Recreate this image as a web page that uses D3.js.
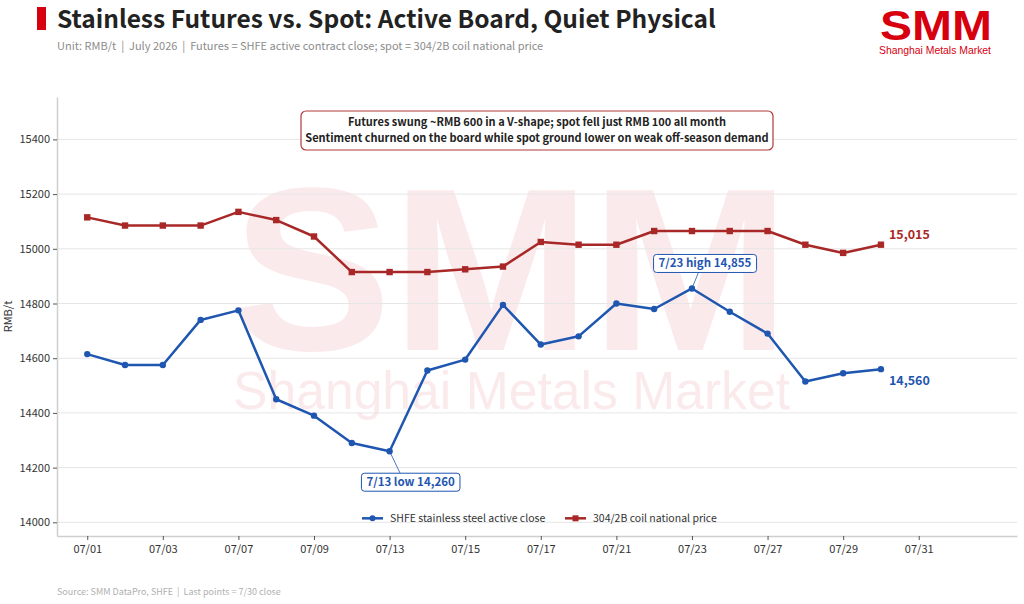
<!DOCTYPE html>
<html>
<head>
<meta charset="utf-8">
<script src="https://cdn.jsdelivr.net/npm/d3@7"></script>
<style>
  html, body { margin: 0; padding: 0; background: #fff; }
  svg { display: block; font-family: "Noto Sans CJK SC", "Noto Sans", sans-serif; }
  text { white-space: pre; }
</style>
</head>
<body>
<div id="wrapper"></div>
<script>
// trading days of July 2026 (last one has no data yet)
const days = ["07/01", "07/02", "07/03", "07/06", "07/07", "07/08", "07/09", "07/10",
  "07/13", "07/14", "07/15", "07/16", "07/17", "07/20", "07/21", "07/22", "07/23",
  "07/24", "07/27", "07/28", "07/29", "07/30", "07/31"]

const futures = [14615, 14575, 14575, 14740, 14775, 14450, 14390, 14290, 14260, 14555,
  14595, 14795, 14650, 14680, 14800, 14780, 14855, 14770, 14690, 14515, 14545, 14560]

const spot = [15115, 15085, 15085, 15085, 15135, 15105, 15045, 14915, 14915, 14915,
  14925, 14935, 15025, 15015, 15015, 15065, 15065, 15065, 15065, 15015, 14985, 15015]

const yTicks = [14000, 14200, 14400, 14600, 14800, 15000, 15200, 15400]

const seriesNames = ["SHFE stainless steel active close", "304/2B coil national price"]
const noteLines = [
  "Futures swung ~RMB 600 in a V-shape; spot fell just RMB 100 all month",
  "Sentiment churned on the board while spot ground lower on weak off-season demand"
]

function drawChart() {
  const blue = "#1f56b0"
  const red = "#a82828"
  const brand = "#d7000f"

  const dimensions = {
    width: 1024,
    height: 604,
    margin: { top: 97, right: 7, bottom: 68, left: 57 }
  }
  dimensions.boundedWidth = dimensions.width - dimensions.margin.left - dimensions.margin.right
  dimensions.boundedHeight = dimensions.height - dimensions.margin.top - dimensions.margin.bottom

  const svg = d3.select("#wrapper")
    .append("svg")
    .attr("width", dimensions.width)
    .attr("height", dimensions.height)

  // header
  svg.append("rect")
    .attr("x", 37).attr("y", 7).attr("width", 9).attr("height", 23)
    .attr("fill", brand)
  svg.append("text")
    .attr("x", 57).attr("y", 28)
    .attr("fill", "#222")
    .style("font-size", "24.5px").style("font-weight", 700)
    .text("Stainless Futures vs. Spot: Active Board, Quiet Physical")
  svg.append("text")
    .attr("x", 57).attr("y", 50)
    .attr("fill", "#8c8c8c")
    .style("font-size", "11px")
    .text("Unit: RMB/t  |  July 2026  |  Futures = SHFE active contract close; spot = 304/2B coil national price")

  // logo
  svg.append("text")
    .attr("x", 880).attr("y", 40)
    .attr("fill", brand)
    .attr("textLength", 112).attr("lengthAdjust", "spacingAndGlyphs")
    .style("font-size", "42px").style("font-weight", 700)
    .style("font-family", "'Liberation Sans', Arial, sans-serif")
    .text("SMM")
  svg.append("text")
    .attr("x", 879).attr("y", 54)
    .attr("fill", brand)
    .attr("textLength", 112).attr("lengthAdjust", "spacingAndGlyphs")
    .style("font-size", "11px")
    .style("font-family", "'Liberation Sans', Arial, sans-serif")
    .text("Shanghai Metals Market")

  const bounds = svg.append("g")
    .attr("transform", `translate(${dimensions.margin.left},${dimensions.margin.top})`)

  // scales
  const xScale = d3.scaleLinear()
    .domain([-0.8, 24.6])
    .range([0, dimensions.boundedWidth])

  const yScale = d3.scaleLinear()
    .domain([13950, 15555])
    .range([dimensions.boundedHeight, 0])

  // watermark
  const wm = bounds.append("g").attr("opacity", 0.08)
  wm.append("text")
    .attr("x", 175).attr("y", 253)
    .attr("fill", brand)
    .attr("textLength", 558).attr("lengthAdjust", "spacingAndGlyphs")
    .style("font-size", "232px").style("font-weight", 700)
    .style("font-family", "'Liberation Sans', Arial, sans-serif")
    .text("SMM")
  wm.append("text")
    .attr("x", 176).attr("y", 312)
    .attr("fill", brand)
    .attr("textLength", 557).attr("lengthAdjust", "spacingAndGlyphs")
    .style("font-size", "53px")
    .style("font-family", "'Liberation Sans', Arial, sans-serif")
    .text("Shanghai Metals Market")

  // gridlines
  bounds.append("g")
    .selectAll("line")
    .data(yTicks)
    .join("line")
    .attr("x1", 0).attr("x2", dimensions.boundedWidth)
    .attr("y1", d => yScale(d)).attr("y2", d => yScale(d))
    .attr("stroke", "#e6e6e6").attr("stroke-width", 1)

  // axes
  const yAxis = bounds.append("g")
    .call(d3.axisLeft(yScale).tickValues(yTicks).tickFormat(d3.format("d"))
      .tickSize(4).tickPadding(3).tickSizeOuter(0))
  yAxis.select(".domain").attr("stroke", "#cfcfcf").attr("stroke-width", 1.5)
  yAxis.selectAll(".tick line").attr("stroke", "#555")
  yAxis.selectAll(".tick text")
    .attr("fill", "#333")
    .style("font-size", "11px")
    .style("font-family", "'Noto Sans CJK SC', sans-serif")

  const xAxis = bounds.append("g")
    .attr("transform", `translate(0,${dimensions.boundedHeight})`)
    .call(d3.axisBottom(xScale)
      .tickValues(d3.range(0, days.length, 2))
      .tickFormat(i => days[i])
      .tickSize(4).tickPadding(5).tickSizeOuter(0))
  xAxis.select(".domain").attr("stroke", "#cfcfcf").attr("stroke-width", 1.5)
  xAxis.selectAll(".tick line").attr("stroke", "#555")
  xAxis.selectAll(".tick text")
    .attr("fill", "#333")
    .style("font-size", "11px")
    .style("font-family", "'Noto Sans CJK SC', sans-serif")

  svg.append("text")
    .attr("transform", `translate(12,${dimensions.margin.top + dimensions.boundedHeight / 2}) rotate(-90)`)
    .attr("text-anchor", "middle")
    .attr("fill", "#333")
    .style("font-size", "11px")
    .text("RMB/t")

  // lines
  const lineGen = d3.line()
    .x((d, i) => xScale(i))
    .y(d => yScale(d))

  bounds.append("path")
    .datum(spot)
    .attr("d", lineGen)
    .attr("fill", "none")
    .attr("stroke", red).attr("stroke-width", 2.5)
    .attr("stroke-linejoin", "round")
  bounds.append("g")
    .selectAll("rect")
    .data(spot)
    .join("rect")
    .attr("x", (d, i) => xScale(i) - 3.2)
    .attr("y", d => yScale(d) - 3.2)
    .attr("width", 6.4).attr("height", 6.4)
    .attr("fill", red)

  bounds.append("path")
    .datum(futures)
    .attr("d", lineGen)
    .attr("fill", "none")
    .attr("stroke", blue).attr("stroke-width", 2.5)
    .attr("stroke-linejoin", "round")
  bounds.append("g")
    .selectAll("circle")
    .data(futures)
    .join("circle")
    .attr("cx", (d, i) => xScale(i))
    .attr("cy", d => yScale(d))
    .attr("r", 3.2)
    .attr("fill", blue)

  // end labels
  const lastI = futures.length - 1
  bounds.append("text")
    .attr("x", xScale(lastI) + 8).attr("y", yScale(spot[lastI]) - 6)
    .attr("fill", red)
    .style("font-size", "12.5px").style("font-weight", 700)
    .text(d3.format(",")(spot[lastI]))
  bounds.append("text")
    .attr("x", xScale(lastI) + 8).attr("y", yScale(futures[lastI]) + 16)
    .attr("fill", blue)
    .style("font-size", "12.5px").style("font-weight", 700)
    .text(d3.format(",")(futures[lastI]))

  // callouts for low and high
  const callout = (i, label, dx, dy) => {
    const px = xScale(i), py = yScale(futures[i])
    const g = bounds.append("g")
    const t = g.append("text")
      .attr("x", px + dx).attr("y", py + dy + 4)
      .attr("text-anchor", "middle")
      .attr("fill", blue)
      .style("font-size", "11.5px").style("font-weight", 700)
      .text(label)
    const bb = t.node().getBBox()
    g.insert("line", "text")
      .attr("x1", px).attr("y1", py)
      .attr("x2", px + dx * 0.5).attr("y2", dy > 0 ? py + dy - 9 : py + dy + 9)
      .attr("stroke", blue).attr("stroke-width", 0.8)
    g.insert("rect", "text")
      .attr("x", bb.x - 5).attr("y", py + dy - 9)
      .attr("width", bb.width + 10).attr("height", 18)
      .attr("rx", 3)
      .attr("fill", "#fff")
      .attr("stroke", blue).attr("stroke-width", 1)
  }
  const lowI = futures.indexOf(d3.min(futures))
  const highI = futures.indexOf(d3.max(futures))
  callout(lowI, `7/13 low ${d3.format(",")(futures[lowI])}`, 21, 31)
  callout(highI, `7/23 high ${d3.format(",")(futures[highI])}`, 13, -25)

  // note box
  const note = bounds.append("g")
  note.append("rect")
    .attr("x", 244).attr("y", 14)
    .attr("width", 472).attr("height", 39)
    .attr("rx", 5)
    .attr("fill", "#fff")
    .attr("stroke", "#b03a3a").attr("stroke-width", 1.2)
  note.selectAll("text")
    .data(noteLines)
    .join("text")
    .attr("x", 480)
    .attr("y", (d, i) => 29 + i * 16)
    .attr("text-anchor", "middle")
    .attr("fill", "#222")
    .style("font-size", "11px").style("font-weight", 700)
    .text(d => d)

  // legend
  const legend = bounds.append("g")
    .attr("transform", `translate(305,${yScale(14000) - 4})`)
  const items = legend.selectAll("g")
    .data(seriesNames)
    .join("g")
    .attr("transform", (d, i) => `translate(${i * 203},0)`)
  items.append("line")
    .attr("x1", 0).attr("x2", 21)
    .attr("stroke", (d, i) => i === 0 ? blue : red)
    .attr("stroke-width", 2.5)
  items.filter((d, i) => i === 0).append("circle")
    .attr("cx", 10.5).attr("r", 3).attr("fill", blue)
  items.filter((d, i) => i === 1).append("rect")
    .attr("x", 7.5).attr("y", -3).attr("width", 6).attr("height", 6).attr("fill", red)
  items.append("text")
    .attr("x", 28).attr("y", 4)
    .attr("fill", "#333")
    .style("font-size", "10.5px")
    .text(d => d)

  // footer
  svg.append("text")
    .attr("x", 57).attr("y", 595)
    .attr("fill", "#b0b0b0")
    .style("font-size", "9px")
    .text("Source: SMM DataPro, SHFE  |  Last points = 7/30 close")
}
drawChart()
</script>
</body>
</html>
